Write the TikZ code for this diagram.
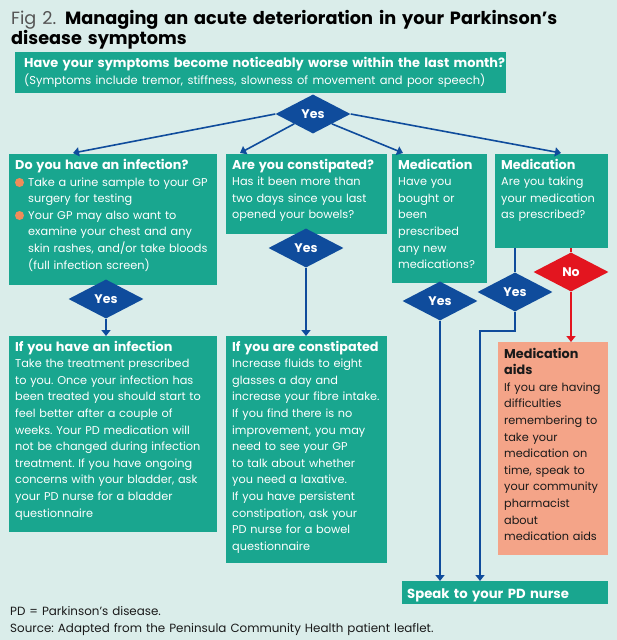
\documentclass[tikz,border=0pt]{standalone}
\usepackage{fontspec}
\setmainfont{Poppins}
\usetikzlibrary{shapes.geometric,arrows.meta}
\definecolor{bgc}{HTML}{DAEDEA}
\definecolor{tealbox}{HTML}{19A68F}
\definecolor{bluec}{HTML}{0F4C9C}
\definecolor{redc}{HTML}{E3151F}
\definecolor{salmon}{HTML}{F4A488}
\definecolor{bulletc}{HTML}{F08C5A}
\definecolor{titlegray}{HTML}{555555}
\definecolor{darktext}{HTML}{1A1A1A}
\newcommand{\bodyf}{\fontsize{11.3}{16.6}\selectfont\frenchspacing}
\newcommand{\hd}[1]{{\fontsize{12.8}{16.6}\selectfont\bfseries #1}}
\begin{document}
\begin{tikzpicture}[x=1pt,y=-1pt,
  box/.style={fill=tealbox,draw=none,inner sep=0pt,outer sep=0pt,anchor=north west},
  sbox/.style={fill=salmon,draw=none,inner sep=0pt,outer sep=0pt,anchor=north west},
  txt/.style={anchor=base west,inner sep=0pt,align=left,text=white,font=\bodyf,text width=330pt},
  dia/.style={diamond,fill=bluec,draw=none,minimum width=75pt,minimum height=39pt,inner sep=0pt,text=white,font=\fontsize{12.5}{14}\selectfont\bfseries},
  rdia/.style={dia,fill=redc},
  bl/.style={draw=bluec,line width=1.6pt},
  arr/.style={bl,-{Triangle[width=9pt,length=6pt]}},
  rl/.style={draw=redc,line width=1.6pt},
  rarr/.style={rl,-{Triangle[width=9pt,length=6pt]}},
  bullet/.style={circle,fill=bulletc,inner sep=0pt,minimum size=9pt}
]
\fill[bgc] (0,0) rectangle (617,640);
\useasboundingbox (0,0) rectangle (617,640);

% title
\node[anchor=base west,inner sep=0pt,align=left,text width=600pt,font=\fontsize{17.7}{18}\selectfont] (title) at (11,24)
  {{\color{titlegray}Fig 2.} \textbf{Managing an acute deterioration in your Parkinson’s}\\\textbf{disease symptoms}};

% top box
\node[box,minimum width=491pt,minimum height=41pt] (top) at (15,52) {};
\node[txt,text width=560pt,font=\fontsize{12.9}{17}\selectfont\frenchspacing] (topt) at (24,67)
  {\textbf{Have your symptoms become noticeably worse within the last month?}\\
   {\fontsize{11.45}{17}\selectfont(Symptoms include tremor, stiffness, slowness of movement and poor speech)}};

% question boxes
\node[box,minimum width=208pt,minimum height=131pt] (q1) at (9,154) {};
\node[box,minimum width=161pt,minimum height=80pt] (q2) at (226,154) {};
\node[box,minimum width=95pt,minimum height=129pt] (q3) at (392,154) {};
\node[box,minimum width=113pt,minimum height=94pt] (q4) at (495,154) {};

\node[txt] (q1h) at (15,169) {\hd{Do you have an infection?}};
\node[txt] (q1t) at (28,186)
  {Take a urine sample to your GP\\surgery for testing\\Your GP may also want to\\examine your chest and any\\skin rashes, and/or take bloods\\(full infection screen)};
\node[bullet] (b1) at (19.5,182.5) {};
\node[bullet] (b2) at (19.5,215.5) {};

\node[txt] (q2t) at (232,169)
  {\hd{Are you constipated?}\\Has it been more than\\two days since you last\\opened your bowels?};
\node[txt] (q3t) at (398,169)
  {\hd{Medication}\\Have you\\bought or\\been\\prescribed\\any new\\medications?};
\node[txt] (q4t) at (501,169)
  {\hd{Medication}\\Are you taking\\your medication\\as prescribed?};

% answer boxes
\node[box,minimum width=208pt,minimum height=196pt] (a1) at (9,336) {};
\node[box,minimum width=161pt,minimum height=227pt] (a2) at (226,336) {};
\node[sbox,minimum width=110pt,minimum height=213pt] (ma) at (498,342) {};
\node[box,minimum width=206pt,minimum height=23pt] (sp) at (402,581) {};

\node[txt] (a1t) at (15,351)
  {\hd{If you have an infection}\\Take the treatment prescribed\\to you. Once your infection has\\been treated you should start to\\feel better after a couple of\\weeks. Your PD medication will\\not be changed during infection\\treatment. If you have ongoing\\concerns with your bladder, ask\\your PD nurse for a bladder\\questionnaire};
\node[txt] (a2t) at (232,351)
  {\hd{If you are constipated}\\Increase fluids to eight\\glasses a day and\\increase your fibre intake.\\If you find there is no\\improvement, you may\\need to see your GP\\to talk about whether\\you need a laxative.\\If you have persistent\\constipation, ask your\\PD nurse for a bowel\\questionnaire};
\node[txt,text=darktext] (mat) at (504,358)
  {\hd{Medication}\\\hd{aids}\\If you are having\\difficulties\\remembering to\\take your\\medication on\\time, speak to\\your community\\pharmacist\\about\\medication aids};
\node[txt,font=\fontsize{13.2}{16}\selectfont\bfseries] (spt) at (407,598) {Speak to your PD nurse};

% diamonds
\node[dia] (d0) at (313,114) {Yes};
\node[dia] (y1) at (106,299) {Yes};
\node[dia] (y2) at (306,248) {Yes};
\node[dia] (y3) at (440,301) {Yes};
\node[dia] (y4) at (515,292) {Yes};
\node[rdia] (n) at (571,272) {No};

% connectors from top diamond
\coordinate (e1) at (73,153);
\coordinate (e2) at (240,153);
\coordinate (e3) at (403,153);
\coordinate (e4) at (561,153);
\draw[arr] (d0.west) -- (e1);
\draw[arr] (d0.south west) -- (e2);
\draw[arr] (d0.south east) -- (e3);
\draw[arr] (d0.east) -- (e4);

\draw[arr] (y1.south) -- (y1.south |- a1.north);
\draw[arr] (y2.south) -- (y2.south |- a2.north);
\draw[arr] (y3.south) -- (y3.south |- sp.north);

\draw[bl] (q4.south -| y4.north) -- (y4.north);
\coordinate (k1) at (515,331);
\coordinate (k2) at (480,331);
\draw[arr] (y4.south) -- (k1) -- (k2) -- (k2 |- sp.north);

\draw[rl] (q4.south -| n.north) -- (n.north);
\draw[rarr] (n.south) -- (n.south |- ma.north);

% footer
\node[anchor=base west,inner sep=0pt,align=left,text width=600pt,font=\fontsize{11.9}{17}\selectfont\frenchspacing,text=darktext] (foot) at (10,615)
  {PD = Parkinson’s disease.\\Source: Adapted from the Peninsula Community Health patient leaflet.};
\end{tikzpicture}
\end{document}
